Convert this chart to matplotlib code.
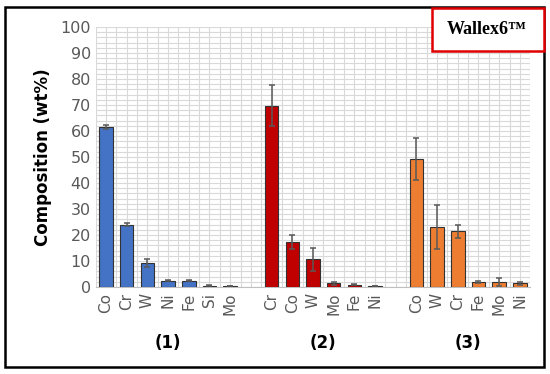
import matplotlib
matplotlib.use("Agg")
import matplotlib.pyplot as plt
from matplotlib.patches import Rectangle
from matplotlib.ticker import MultipleLocator
import numpy as np

# three samples, elements sorted by amount
g1_el = ["Co", "Cr", "W", "Ni", "Fe", "Si", "Mo"]
g1_val = [61.5, 24.0, 9.2, 2.4, 2.4, 0.5, 0.3]
g1_err = [0.8, 0.6, 1.5, 0.2, 0.2, 0.1, 0.1]

g2_el = ["Cr", "Co", "W", "Mo", "Fe", "Ni"]
g2_val = [69.8, 17.3, 10.6, 1.4, 0.9, 0.3]
g2_err = [7.8, 2.7, 4.4, 0.6, 0.2, 0.1]

g3_el = ["Co", "W", "Cr", "Fe", "Mo", "Ni"]
g3_val = [49.2, 23.2, 21.5, 1.9, 1.8, 1.4]
g3_err = [8.2, 8.5, 2.5, 0.3, 1.5, 0.6]

group_names = ["(1)", "(2)", "(3)"]
colors = ["#4472C4", "#C00000", "#ED7D31"]

fig = plt.figure(figsize=(5.5, 3.74), dpi=100)
ax = fig.add_axes([0.174, 0.2326, 0.79, 0.695])

groups = [(g1_el, g1_val, g1_err), (g2_el, g2_val, g2_err), (g3_el, g3_val, g3_err)]
start = 0
ticks, labels, centers = [], [], []
for (el, val, err), col in zip(groups, colors):
    x = np.arange(start, start + len(el))
    ax.bar(x, val, width=0.65, color=col, edgecolor="#333333", linewidth=0.8,
           yerr=err, error_kw=dict(ecolor="#595959", elinewidth=1.1, capsize=2.5, capthick=1.1),
           zorder=3)
    ticks += list(x)
    labels += el
    centers.append(x.mean())
    start += len(el) + 1

ax.set_xlim(-0.5, start - 1.5)
ax.set_ylim(0, 100)
ax.yaxis.set_major_locator(MultipleLocator(10))
ax.yaxis.set_minor_locator(MultipleLocator(2))
ax.set_xticks(ticks)
ax.set_xticklabels(labels, rotation=90, fontsize=11, color="#595959")
ax.set_xticks(np.arange(-0.5, start - 1.0, 0.5), minor=True)
ax.tick_params(axis="y", labelsize=11.5, labelcolor="#595959", length=0, which="both")
ax.tick_params(axis="x", length=0, which="both", pad=4)
ax.grid(True, which="both", color="#D9D9D9", linewidth=0.8, zorder=0)
ax.set_axisbelow(True)
for s in ["top", "right", "left"]:
    ax.spines[s].set_visible(False)
ax.spines["bottom"].set_color("#BFBFBF")

ax.set_ylabel("Composition (wt%)", fontsize=12, fontweight="bold", labelpad=6)

for c, name in zip(centers, group_names):
    ax.text(c, -0.215, name, transform=ax.get_xaxis_transform(), ha="center", va="center",
            fontsize=12, fontweight="bold")

# outer frame and title box
fig.patches.append(Rectangle((5 / 550, 1 - 367 / 374), 539 / 550, 360 / 374,
                             transform=fig.transFigure, fill=False, edgecolor="black",
                             linewidth=1.8))
fig.patches.append(Rectangle((432 / 550, 1 - 51 / 374), 112 / 550, 43 / 374,
                             transform=fig.transFigure, facecolor="white", edgecolor="#E00000",
                             linewidth=1.8, zorder=5))
fig.text(487 / 550, 1 - 29 / 374, "Wallex6\u2122", ha="center", va="center",
         fontsize=13, fontweight="bold", family=["Liberation Serif", "DejaVu Serif"], zorder=6)

fig.savefig("out.png", dpi=100)
